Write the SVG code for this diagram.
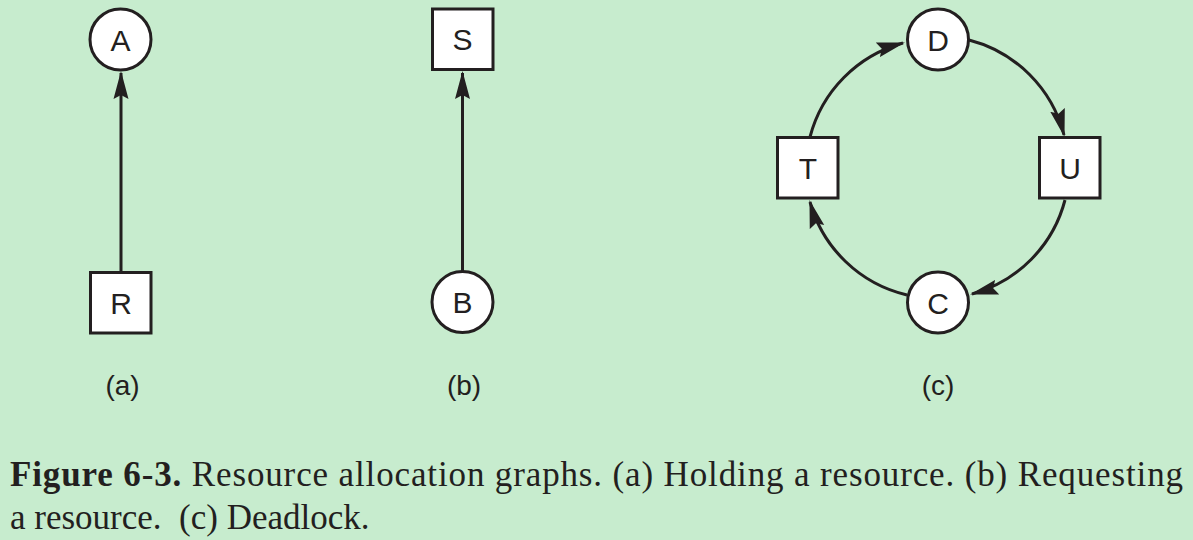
<svg xmlns="http://www.w3.org/2000/svg" width="1193" height="540" viewBox="0 0 1193 540">
  <style>
    .node { fill: #ffffff; stroke: #231f20; stroke-width: 3; }
    .lbl { font-family: "Liberation Sans", Arial, sans-serif; font-size: 30px; fill: #231f20; text-anchor: middle; }
    .sub { font-family: "Liberation Sans", Arial, sans-serif; font-size: 28px; fill: #231f20; text-anchor: middle; }
    .edge { fill: none; stroke: #231f20; stroke-width: 3; }
    .cap { font-family: "Liberation Serif", "Times New Roman", serif; font-size: 35px; fill: #231f20; }
    .b { font-weight: bold; }
  </style>
  <defs>
    <marker id="arr" markerUnits="userSpaceOnUse" markerWidth="28" markerHeight="16" viewBox="0 0 28 16" refX="26" refY="8" orient="auto">
      <path d="M0,0.5 L28,8 L0,15.5 L4,8 z" fill="#231f20"/>
    </marker>
  </defs>
  <rect x="0" y="0" width="1193" height="540" fill="#c7ecce"/>

  <g id="connectors">
    <line class="edge" x1="121" y1="273" x2="121" y2="73" marker-end="url(#arr)"/>
    <line class="edge" x1="462.5" y1="272" x2="462.5" y2="73" marker-end="url(#arr)"/>
    <path class="edge" d="M810,137 A132,132 0 0 1 903,43" marker-end="url(#arr)"/>
    <path class="edge" d="M969,40 A132,132 0 0 1 1064,135" marker-end="url(#arr)"/>
    <path class="edge" d="M1065,200 A132,132 0 0 1 972,294" marker-end="url(#arr)"/>
    <path class="edge" d="M907,295 A132,132 0 0 1 810,202" marker-end="url(#arr)"/>
  </g>

  <g id="node-A">
    <circle class="node" cx="120.5" cy="39.5" r="30.5"/>
    <text class="lbl" x="120.5" y="50.5">A</text>
  </g>
  <g id="node-R">
    <rect class="node" x="90.5" y="272.5" width="60.5" height="60.5"/>
    <text class="lbl" x="121" y="313.5">R</text>
  </g>
  <g id="node-S">
    <rect class="node" x="432.5" y="9" width="60.5" height="60.5"/>
    <text class="lbl" x="462.5" y="50">S</text>
  </g>
  <g id="node-B">
    <circle class="node" cx="462.5" cy="302" r="30.5"/>
    <text class="lbl" x="462.5" y="313">B</text>
  </g>
  <g id="node-D">
    <circle class="node" cx="938" cy="39.5" r="30.5"/>
    <text class="lbl" x="938" y="50.5">D</text>
  </g>
  <g id="node-T">
    <rect class="node" x="777.5" y="137.5" width="60.5" height="60.5"/>
    <text class="lbl" x="808" y="179">T</text>
  </g>
  <g id="node-U">
    <rect class="node" x="1039.5" y="137.5" width="60.5" height="60.5"/>
    <text class="lbl" x="1070" y="179">U</text>
  </g>
  <g id="node-C">
    <circle class="node" cx="938" cy="302.5" r="30.5"/>
    <text class="lbl" x="938" y="313.5">C</text>
  </g>

  <text class="sub" x="122.5" y="395">(a)</text>
  <text class="sub" x="464" y="395">(b)</text>
  <text class="sub" x="938" y="395">(c)</text>

  <text class="cap" x="10" y="486" textLength="1173" lengthAdjust="spacing"><tspan class="b">Figure 6-3.</tspan>  Resource allocation graphs.  (a) Holding a resource.  (b) Requesting</text>
  <text class="cap" x="10" y="529" xml:space="preserve">a resource.  (c) Deadlock.</text>
</svg>
